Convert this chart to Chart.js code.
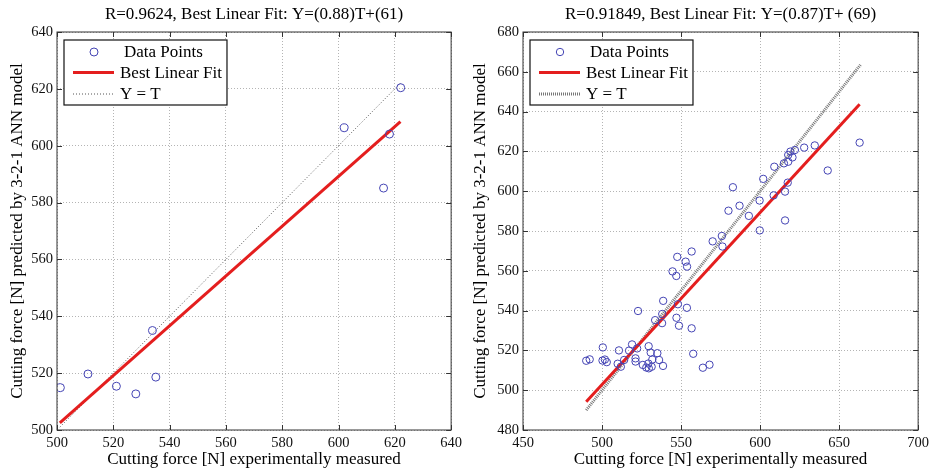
<!DOCTYPE html>
<html>
<head>
<meta charset="utf-8">
<script src="https://cdn.jsdelivr.net/npm/chart.js@4.4.1/dist/chart.umd.min.js"></script>
<style>
  html, body { margin: 0; padding: 0; background: #fff; }
  #wrap { position: relative; width: 933px; height: 474px; }
  canvas { position: absolute; top: 0; }
</style>
</head>
<body>
<div id="wrap">
  <canvas id="leftChart" width="466" height="474" style="left:0"></canvas>
  <canvas id="rightChart" width="467" height="474" style="left:466px"></canvas>
</div>
<script>
// left panel (10 samples)
const leftTitle = "R=0.9624, Best Linear Fit: Y=(0.88)T+(61)";
const leftX = [501.2, 511.0, 521.1, 528.0, 533.9, 535.1, 602.0, 616.0, 618.1, 622.1];
const leftY = [514.9, 519.7, 515.4, 512.7, 535.0, 518.6, 606.3, 585.1, 604.1, 620.4];
const leftFitX = [501, 622];
const leftFitY = [502.5, 608.5];
const leftIdX = [501, 622];
const leftIdY = [501, 622];

// right panel
const rightTitle = "R=0.91849, Best Linear Fit: Y=(0.87)T+ (69)";
const rightX = [
  663.0, 642.8, 634.6, 627.9, 622.0, 620.5, 619.2, 617.8, 617.8, 615.1,
  609.0, 602.0, 617.5, 615.8, 608.6, 599.7, 582.8, 587.0, 580.0, 592.9,
  615.8, 599.8, 575.8, 570.0, 576.2, 556.7, 547.6, 552.9, 553.8, 544.6,
  547.0, 538.7, 548.0, 553.7, 522.8, 538.1, 547.1, 533.6, 538.0, 548.7,
  556.7, 519.0, 529.5, 500.5, 510.7, 517.1, 522.2, 530.8, 535.0, 557.7,
  490.0, 492.2, 500.3, 501.8, 503.0, 509.9, 511.9, 514.0, 521.2, 521.2,
  525.8, 528.0, 529.6, 531.4, 529.3, 531.8, 536.1, 538.6, 563.8, 568.0
];
const rightY = [
  624.4, 610.4, 623.0, 621.9, 620.7, 617.0, 619.9, 618.2, 614.8, 614.0,
  612.3, 606.2, 604.3, 599.8, 597.9, 595.3, 602.0, 592.7, 590.2, 587.6,
  585.3, 580.3, 577.5, 574.8, 572.2, 569.7, 567.0, 564.6, 562.1, 559.7,
  557.4, 544.9, 543.2, 541.4, 539.8, 538.3, 536.4, 535.2, 533.7, 532.4,
  531.1, 523.0, 522.1, 521.5, 520.0, 519.9, 521.0, 518.9, 518.6, 518.3,
  514.8, 515.5, 514.9, 515.4, 514.1, 513.3, 511.8, 515.2, 516.0, 514.4,
  512.7, 511.4, 511.0, 511.8, 513.4, 515.4, 515.2, 512.2, 511.3, 512.8
];
const rightFitX = [490, 663];
const rightFitY = [494.2, 643.7];
const rightIdX = [490, 663.5];
const rightIdY = [490, 663.5];

const seriesLabels = ["Data Points", "Best Linear Fit", "Y = T"];
const xLabel = "Cutting force [N] experimentally measured";
const yLabel = "Cutting force [N] predicted by 3-2-1 ANN model";

const SERIF = '"Liberation Serif", "Times New Roman", serif';
const BLUE = "#4444b4";
const RED = "#e41e1e";

const pts = (xs, ys) => xs.map((x, i) => ({ x: x, y: ys[i] }));

// box round the plot area with inward ticks, like matlab axes
const framePlugin = {
  id: "frame",
  afterDraw(chart) {
    const { ctx, chartArea: a, scales } = chart;
    ctx.save();
    ctx.strokeStyle = "#333";
    ctx.lineWidth = 1;
    ctx.strokeRect(a.left, a.top, a.width, a.height);
    ctx.beginPath();
    scales.x.ticks.forEach(t => {
      const px = Math.round(scales.x.getPixelForValue(t.value)) + 0.5;
      ctx.moveTo(px, a.bottom); ctx.lineTo(px, a.bottom - 5);
      ctx.moveTo(px, a.top); ctx.lineTo(px, a.top + 5);
    });
    scales.y.ticks.forEach(t => {
      const py = Math.round(scales.y.getPixelForValue(t.value)) + 0.5;
      ctx.moveTo(a.left, py); ctx.lineTo(a.left + 5, py);
      ctx.moveTo(a.right, py); ctx.lineTo(a.right - 5, py);
    });
    ctx.stroke();

    // title centred over the plot area
    const opts = chart.options.plugins.frame;
    ctx.fillStyle = "#000";
    ctx.font = "17px " + SERIF;
    ctx.textAlign = "center";
    ctx.textBaseline = "middle";
    ctx.fillText(opts.title, (a.left + a.right) / 2, 15);
    ctx.restore();
  }
};

const legendPlugin = {
  id: "boxLegend",
  afterDraw(chart) {
    const { ctx, chartArea: a } = chart;
    const sets = chart.data.datasets;
    ctx.save();
    ctx.font = "17px " + SERIF;
    const textW = Math.max(...sets.map(d => ctx.measureText(d.label).width));
    const x0 = a.left + 7, y0 = a.top + 8;
    const w = 56 + textW + 5, h = 65;
    ctx.fillStyle = "#fff";
    ctx.fillRect(x0, y0, w, h);
    ctx.strokeStyle = "#111";
    ctx.lineWidth = 1.2;
    ctx.strokeRect(x0, y0, w, h);
    const rows = [12, 32.5, 54];
    sets.forEach((d, i) => {
      const cy = y0 + rows[i];
      if (i === 0) {
        ctx.beginPath();
        ctx.strokeStyle = d.borderColor;
        ctx.lineWidth = 1;
        ctx.arc(x0 + 30, cy, d.pointRadius, 0, Math.PI * 2);
        ctx.stroke();
      } else {
        ctx.beginPath();
        ctx.strokeStyle = d.borderColor;
        ctx.lineWidth = d.borderWidth;
        ctx.setLineDash(d.borderDash || []);
        ctx.moveTo(x0 + 9, cy);
        ctx.lineTo(x0 + 50, cy);
        ctx.stroke();
        ctx.setLineDash([]);
      }
      ctx.fillStyle = "#000";
      ctx.textAlign = "left";
      ctx.textBaseline = "middle";
      ctx.fillText(d.label, x0 + (i === 0 ? 60 : 56), cy + 1);
    });
    ctx.restore();
  }
};

function makeChart(id, cfg) {
  const tickFont = { family: SERIF, size: 14.5 };
  const titleFont = { family: SERIF, size: 17 };
  return new Chart(document.getElementById(id), {
    type: "scatter",
    data: {
      datasets: [
        {
          label: seriesLabels[0],
          data: pts(cfg.x, cfg.y),
          borderColor: BLUE,
          backgroundColor: "rgba(0,0,0,0)",
          borderWidth: 1,
          pointRadius: cfg.radius,
          pointHoverRadius: cfg.radius,
          order: 1
        },
        {
          label: seriesLabels[1],
          data: pts(cfg.fitX, cfg.fitY),
          showLine: true,
          borderColor: RED,
          borderWidth: 3,
          pointRadius: 0,
          order: 2
        },
        {
          label: seriesLabels[2],
          data: pts(cfg.idX, cfg.idY),
          showLine: true,
          borderColor: cfg.idColor,
          borderWidth: cfg.idWidth,
          borderDash: cfg.idDash,
          pointRadius: 0,
          order: 3
        }
      ]
    },
    options: {
      responsive: false,
      animation: false,
      events: [],
      layout: { padding: { top: 32, right: cfg.padRight, left: 0, bottom: 0 } },
      plugins: {
        legend: { display: false },
        title: { display: false },
        tooltip: { enabled: false },
        frame: { title: cfg.title }
      },
      scales: {
        x: {
          type: "linear",
          min: cfg.xMin, max: cfg.xMax,
          afterFit: s => { s.height = 44; },
          ticks: { stepSize: cfg.xStep, font: tickFont, color: "#111", padding: 4, maxRotation: 0 },
          grid: { color: "#b4b4b4", lineWidth: 1, drawTicks: false },
          border: { display: false, dash: [1, 2] },
          title: { display: true, text: xLabel, font: titleFont, color: "#000", padding: { top: 0, bottom: 4 } }
        },
        y: {
          type: "linear",
          min: cfg.yMin, max: cfg.yMax,
          afterFit: s => { s.width = 57; },
          ticks: { stepSize: 20, font: tickFont, color: "#111", padding: 4 },
          grid: { color: "#b4b4b4", lineWidth: 1, drawTicks: false },
          border: { display: false, dash: [1, 2] },
          title: { display: true, text: yLabel, font: titleFont, color: "#000", padding: { top: cfg.yTitlePad, bottom: 0 } }
        }
      }
    },
    plugins: [framePlugin, legendPlugin]
  });
}

makeChart("leftChart", {
  title: leftTitle,
  x: leftX, y: leftY, fitX: leftFitX, fitY: leftFitY, idX: leftIdX, idY: leftIdY,
  radius: 4, idColor: "#555", idWidth: 1, idDash: [1, 2],
  xMin: 500, xMax: 640, xStep: 20, yMin: 500, yMax: 640,
  padRight: 13, yTitlePad: 7
});

makeChart("rightChart", {
  title: rightTitle,
  x: rightX, y: rightY, fitX: rightFitX, fitY: rightFitY, idX: rightIdX, idY: rightIdY,
  radius: 3.7, idColor: "#777", idWidth: 3, idDash: [1, 1],
  xMin: 450, xMax: 700, xStep: 50, yMin: 480, yMax: 680,
  padRight: 12, yTitlePad: 4
});
</script>
</body>
</html>
